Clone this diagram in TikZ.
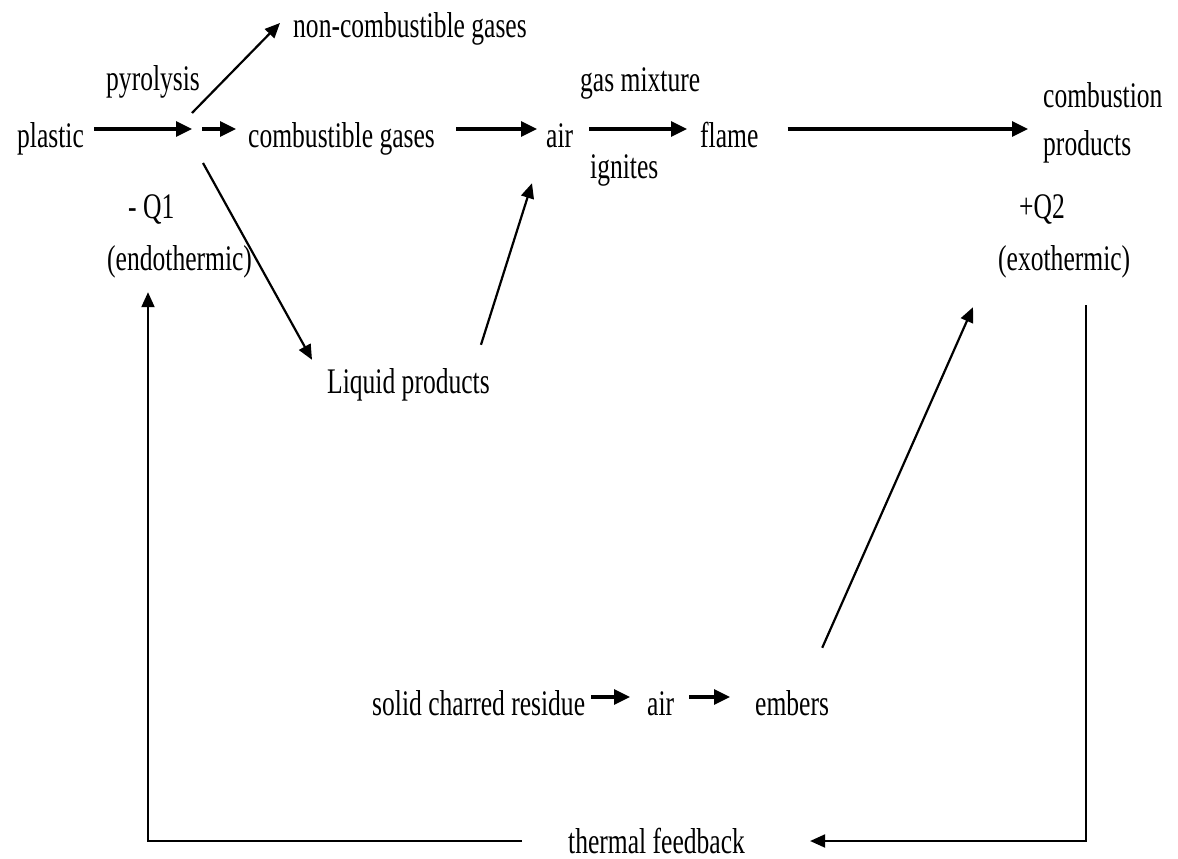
\documentclass[tikz,border=0pt]{standalone}
\usepackage{fontspec}
\setmainfont[FakeStretch=0.71]{Liberation Serif}
\usetikzlibrary{arrows.meta}
\tikzset{
	txt/.style={font=\fontsize{36}{48}\selectfont, inner sep=0pt, anchor=base west,
		text height=36pt, text depth=0pt},
	bold arr/.style={line width=3.2pt, -{Triangle[length=16pt,width=15pt]}},
	thin arr/.style={line width=2.2pt, -{Triangle[length=15pt,width=13pt]}},
	loop arr/.style={line width=2pt, -{Triangle[length=15pt,width=13pt]}}
}

\begin{document}
\begin{tikzpicture}[x=1pt,y=-1pt]
	\path[use as bounding box, fill=white] (0,0) rectangle (1178,859);

	\node[txt] (plastic) at (17,147) {plastic};
	\node[txt] (pyro) at (106,90) {pyrolysis};
	\node[txt] (noncomb) at (293,38) {non-combustible gases};
	\node[txt] (comb) at (248,147) {combustible gases};
	\node[txt] (air1) at (546,147) {air};
	\node[txt] (gasmix) at (580,92) {gas mixture};
	\node[txt] (ignites) at (590,178) {ignites};
	\node[txt] (flame) at (700,147) {flame};
	\node[font=\fontsize{36}{48}\selectfont, inner sep=0pt, anchor=north west, align=left]
		(prod) at (1043,82) {combustion\\products};
	\node[txt] (q1) at (128,218) {- Q1};
	\node[txt] (endo) at (107,270) {(endothermic)};
	\node[txt] (q2) at (1019,218) {+Q2};
	\node[txt] (exo) at (998,270) {(exothermic)};
	\node[txt] (liquid) at (327,393) {Liquid products};
	\node[txt] (residue) at (372,715) {solid charred residue};
	\node[txt] (air2) at (647,715) {air};
	\node[txt] (embers) at (755,715) {embers};
	\node[txt] (thermal) at (568,853) {thermal feedback};
	\coordinate (fork) at (197,129);

	\draw[bold arr, shorten <=10pt, shorten >=5pt] (plastic) -- (fork);
	\draw[bold arr, shorten <=5pt, shorten >=12pt] (fork) -- (comb);
	\draw[bold arr, shorten <=21pt, shorten >=9pt] (comb) -- (air1);
	\draw[bold arr, shorten <=16pt, shorten >=13pt] (air1) -- (flame);
	\draw[bold arr, shorten <=29pt, shorten >=15pt] (flame) -- (flame -| prod.west);

	\draw[thin arr] ([xshift=-5pt,yshift=16pt]fork) -- ([xshift=-13pt,yshift=-3pt]noncomb.west);
	\draw[thin arr] ([xshift=6pt,yshift=-34pt]fork) -- ([xshift=-15pt,yshift=-3pt]liquid.north west);
	\draw[thin arr] ([xshift=-9pt,yshift=12pt]liquid.north east) -- ([xshift=-14pt,yshift=-36pt]air1.south west);

	\draw[bold arr, shorten <=6pt, shorten >=17pt] (residue) -- (air2);
	\draw[bold arr, shorten <=15pt, shorten >=25pt] (air2) -- (embers);
	\draw[thin arr] ([xshift=-7pt,yshift=31pt]embers.north east) -- ([xshift=-25pt,yshift=-37pt]exo.south west);

	\draw[loop arr, shorten >=65pt] ([xshift=22pt,yshift=-35pt]exo.south) |- ([yshift=-6pt]thermal.east);
	\draw[loop arr, shorten <=46pt] ([yshift=-6pt]thermal.west) -| ([xshift=41pt,yshift=-22pt]endo.south west);
\end{tikzpicture}
\end{document}
